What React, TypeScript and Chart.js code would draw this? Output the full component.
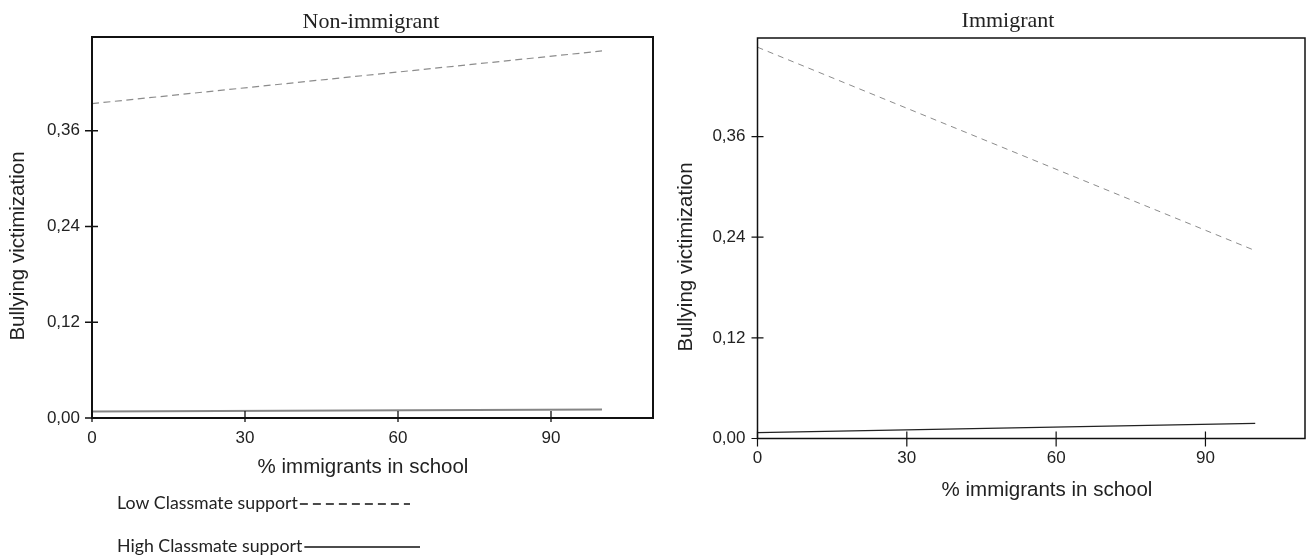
import React, { useEffect, useRef } from "react";
import { Chart, registerables } from "chart.js";

Chart.register(...registerables);

// ---------------- data ----------------
const xValues = [0, 100];
const xTickValues = [0, 30, 60, 90];
const xTickLabels = ["0", "30", "60", "90"];
const yTickValues = [0, 0.12, 0.24, 0.36];
const yTickLabels = ["0,00", "0,12", "0,24", "0,36"];
const seriesLabels = ["Low Classmate support", "High Classmate support"];
const nonImmigrantLow = [0.394, 0.46];
const nonImmigrantHigh = [0.008, 0.0105];
const immigrantLow = [0.4665, 0.224];
const immigrantHigh = [0.007, 0.018];
const panelTitles = ["Non-immigrant", "Immigrant"];
const xAxisTitle = "% immigrants in school";
const yAxisTitle = "Bullying victimization";
const xMin = 0;
const xMax = 110;
const yMin = 0;
const yMax = 0.4775;

// ---------------- layout / style ----------------
const H = 558;
const SANS = '"Liberation Sans", Arial, sans-serif';
const SERIF = '"Liberation Serif", "Times New Roman", serif';
const LEGEND_FONT = 'Lato, "Open Sans", sans-serif';

type LineStyle = { color: string; width: number; dash: number[] };
type Panel = {
  title: string;
  low: number[];
  high: number[];
  canvasLeft: number;
  canvasWidth: number;
  area: { left: number; top: number; right: number; bottom: number };
  frameWidth: number;
  tickWidth: number;
  xIn: number;
  xOut: number;
  yIn: number;
  yOut: number;
  titlePos: { x: number; y: number };
  xTitlePos: { x: number; y: number };
  yTitlePos: { x: number; y: number };
  legend: boolean;
  lowStyle: LineStyle;
  highStyle: LineStyle;
};

const leftPanel: Panel = {
  title: panelTitles[0],
  low: nonImmigrantLow,
  high: nonImmigrantHigh,
  canvasLeft: 0,
  canvasWidth: 680,
  area: { left: 92, top: 37, right: 653, bottom: 418 },
  frameWidth: 2,
  tickWidth: 1.3,
  xIn: 7,
  xOut: 4,
  yIn: 6,
  yOut: 7,
  titlePos: { x: 371, y: 28 },
  xTitlePos: { x: 363, y: 467 },
  yTitlePos: { x: 18.5, y: 246 },
  legend: true,
  lowStyle: { color: "#8c8c8c", width: 1.2, dash: [7, 4.5] },
  highStyle: { color: "#858585", width: 2, dash: [] },
};

const rightPanel: Panel = {
  title: panelTitles[1],
  low: immigrantLow,
  high: immigrantHigh,
  canvasLeft: 660,
  canvasWidth: 650,
  area: { left: 97.5, top: 38, right: 645, bottom: 438.5 },
  frameWidth: 1.5,
  tickWidth: 1.2,
  xIn: 7,
  xOut: 8,
  yIn: 6,
  yOut: 6,
  titlePos: { x: 348, y: 27 },
  xTitlePos: { x: 387, y: 490 },
  yTitlePos: { x: 26, y: 257 },
  legend: false,
  lowStyle: { color: "#8c8c8c", width: 1, dash: [6, 5] },
  highStyle: { color: "#222222", width: 1.2, dash: [] },
};

function makeDecor(p: Panel) {
  return {
    id: "decor",
    afterDraw(chart: any) {
      const ctx: CanvasRenderingContext2D = chart.ctx;
      const a = chart.chartArea;
      const xs = chart.scales.x;
      const ys = chart.scales.y;
      ctx.save();
      // frame
      ctx.strokeStyle = "#111";
      ctx.lineWidth = p.frameWidth;
      ctx.setLineDash([]);
      ctx.strokeRect(a.left, a.top, a.right - a.left, a.bottom - a.top);
      // crossing tick marks
      ctx.lineWidth = p.tickWidth;
      ctx.beginPath();
      xs.ticks.forEach((t: any) => {
        const px = xs.getPixelForValue(t.value);
        ctx.moveTo(px, a.bottom - p.xIn);
        ctx.lineTo(px, a.bottom + p.xOut);
      });
      ys.ticks.forEach((t: any) => {
        const py = ys.getPixelForValue(t.value);
        ctx.moveTo(a.left - p.yOut, py);
        ctx.lineTo(a.left + p.yIn, py);
      });
      ctx.stroke();

      // panel title
      ctx.fillStyle = "#222";
      ctx.font = `22px ${SERIF}`;
      ctx.textAlign = "center";
      ctx.textBaseline = "alphabetic";
      ctx.fillText(p.title, p.titlePos.x, p.titlePos.y);

      // x axis title
      ctx.font = `20.5px ${SANS}`;
      ctx.textBaseline = "middle";
      ctx.fillText(xAxisTitle, p.xTitlePos.x, p.xTitlePos.y);

      // y axis title
      ctx.save();
      ctx.translate(p.yTitlePos.x, p.yTitlePos.y);
      ctx.rotate(-Math.PI / 2);
      ctx.fillText(yAxisTitle, 0, 0);
      ctx.restore();

      // legend
      if (p.legend) {
        ctx.font = `18px ${LEGEND_FONT}`;
        const w18 = ctx.measureText(seriesLabels[0]).width || 181;
        const size = (18 * 181) / w18;
        ctx.font = `${size}px ${LEGEND_FONT}`;
        ctx.textAlign = "left";
        ctx.textBaseline = "middle";
        const rows = [
          { label: seriesLabels[0], y: 503, end: 410, dash: [8, 5] },
          { label: seriesLabels[1], y: 546, end: 420, dash: [] as number[] },
        ];
        rows.forEach((r) => {
          ctx.fillStyle = "#222";
          ctx.fillText(r.label, 117, r.y);
          const w = ctx.measureText(r.label).width;
          ctx.setLineDash(r.dash);
          ctx.lineWidth = 1.3;
          ctx.strokeStyle = "#111";
          ctx.beginPath();
          ctx.moveTo(117 + w + 2, r.y + 1);
          ctx.lineTo(r.end, r.y + 1);
          ctx.stroke();
        });
        ctx.setLineDash([]);
      }
      ctx.restore();
    },
  };
}

function buildConfig(p: Panel): any {
  const mk = (vals: number[], label: string, s: LineStyle) => ({
    label,
    data: xValues.map((x, i) => ({ x, y: vals[i] })),
    borderColor: s.color,
    borderWidth: s.width,
    borderDash: s.dash,
    pointRadius: 0,
    fill: false,
    tension: 0,
  });
  return {
    type: "line",
    data: {
      datasets: [
        mk(p.low, seriesLabels[0], p.lowStyle),
        mk(p.high, seriesLabels[1], p.highStyle),
      ],
    },
    plugins: [makeDecor(p)],
    options: {
      responsive: false,
      animation: false,
      devicePixelRatio: 1,
      layout: {
        padding: {
          left: 0,
          top: p.area.top,
          right: p.canvasWidth - p.area.right,
          bottom: 0,
        },
      },
      plugins: {
        legend: { display: false },
        title: { display: false },
        tooltip: { enabled: false },
      },
      scales: {
        x: {
          type: "linear",
          min: xMin,
          max: xMax,
          afterBuildTicks: (s: any) => {
            s.ticks = xTickValues.map((v) => ({ value: v }));
          },
          afterFit: (s: any) => {
            s.height = H - p.area.bottom;
          },
          grid: { display: false, drawTicks: false },
          border: { display: false },
          ticks: {
            padding: 10,
            color: "#222",
            font: { family: SANS, size: 17 },
            maxRotation: 0,
            autoSkip: false,
            callback: (_v: any, i: number) => xTickLabels[i],
          },
          title: { display: false },
        },
        y: {
          type: "linear",
          min: yMin,
          max: yMax,
          afterBuildTicks: (s: any) => {
            s.ticks = yTickValues.map((v) => ({ value: v }));
          },
          afterFit: (s: any) => {
            s.width = p.area.left;
          },
          grid: { display: false, drawTicks: false },
          border: { display: false },
          ticks: {
            padding: 12,
            color: "#222",
            font: { family: SANS, size: 17 },
            autoSkip: false,
            callback: (_v: any, i: number) => yTickLabels[i],
          },
          title: { display: false },
        },
      },
    },
  };
}

function PanelChart({ panel }: { panel: Panel }) {
  const ref = useRef<HTMLCanvasElement | null>(null);
  useEffect(() => {
    const c = ref.current;
    if (!c) return;
    const chart = new Chart(c, buildConfig(panel));
    return () => chart.destroy();
  }, [panel]);
  return (
    <canvas
      ref={ref}
      width={panel.canvasWidth}
      height={H}
      style={{
        position: "absolute",
        left: panel.canvasLeft,
        top: 0,
        width: panel.canvasWidth,
        height: H,
        display: "block",
      }}
    />
  );
}

export default function App() {
  return (
    <div
      style={{
        position: "absolute",
        left: 0,
        top: 0,
        width: 1310,
        height: H,
        background: "#fff",
        overflow: "hidden",
      }}
    >
      <PanelChart panel={leftPanel} />
      <PanelChart panel={rightPanel} />
    </div>
  );
}
